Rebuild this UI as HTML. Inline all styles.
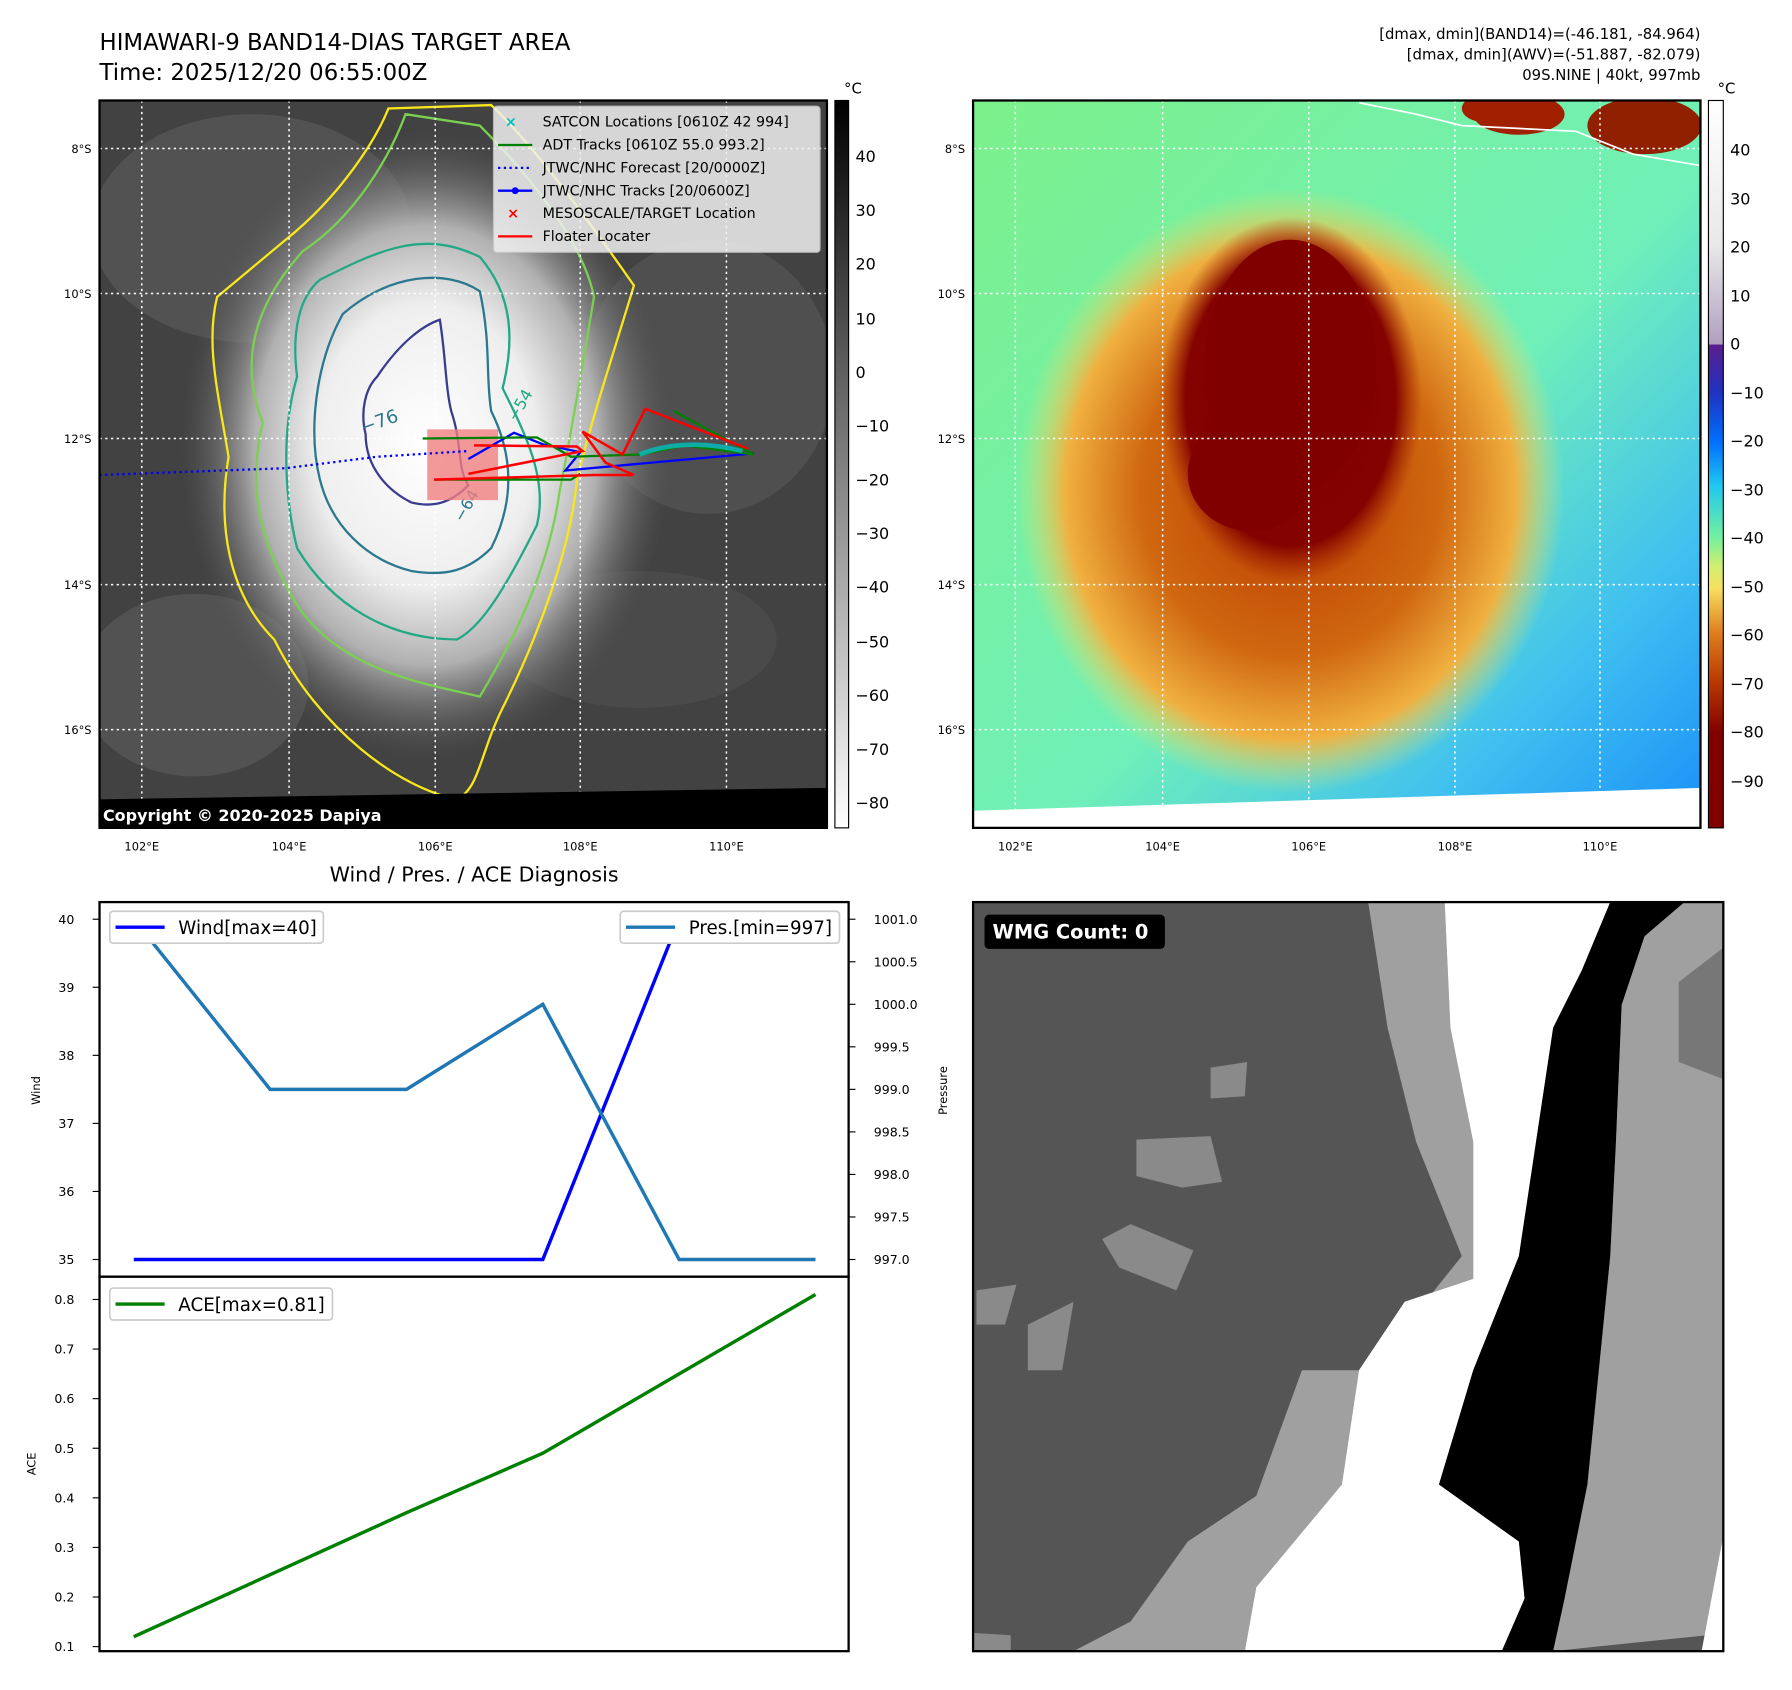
<!DOCTYPE html>
<html><head><meta charset="utf-8"><style>
html,body{margin:0;padding:0;background:#fff;}
svg{display:block;font-family:"DejaVu Sans","Liberation Sans",sans-serif;}
</style></head><body>
<svg id="fig" width="1792" height="1690" viewBox="0 0 1569 1480" xmlns="http://www.w3.org/2000/svg">
<defs>
<radialGradient id="cloudW" cx="0.5" cy="0.5" r="0.5">
<stop offset="0" stop-color="#ffffff"/><stop offset="0.45" stop-color="#eeeeee"/><stop offset="0.7" stop-color="#b0b0b0"/><stop offset="1" stop-color="#5a5a5a" stop-opacity="0"/>
</radialGradient>
<radialGradient id="warmO" cx="0.5" cy="0.5" r="0.5">
<stop offset="0" stop-color="#b83800"/><stop offset="0.55" stop-color="#d06810"/><stop offset="0.82" stop-color="#f0b040"/><stop offset="1" stop-color="#e8e870" stop-opacity="0"/>
</radialGradient>
<radialGradient id="coreR" cx="0.5" cy="0.5" r="0.5">
<stop offset="0" stop-color="#800000"/><stop offset="0.8" stop-color="#840200"/><stop offset="1" stop-color="#a02400" stop-opacity="0"/>
</radialGradient>
<linearGradient id="grayBar" x1="0" y1="0" x2="0" y2="1">
<stop offset="0" stop-color="#000"/><stop offset="1" stop-color="#fff"/>
</linearGradient>
<linearGradient id="colBar" x1="0" y1="0" x2="0" y2="1">
<stop offset="0" stop-color="#ffffff"/><stop offset="0.2" stop-color="#e8e8e8"/><stop offset="0.335" stop-color="#b0a0c0"/>
<stop offset="0.336" stop-color="#5a1e8c"/><stop offset="0.4" stop-color="#2030c0"/><stop offset="0.47" stop-color="#0070ff"/>
<stop offset="0.53" stop-color="#20c8f0"/><stop offset="0.6" stop-color="#70f0a0"/><stop offset="0.64" stop-color="#d0f070"/>
<stop offset="0.67" stop-color="#f8e060"/><stop offset="0.73" stop-color="#e08020"/><stop offset="0.8" stop-color="#b83800"/>
<stop offset="0.87" stop-color="#800000"/><stop offset="1" stop-color="#800000"/>
</linearGradient>
<linearGradient id="seaG" x1="0" y1="0" x2="1" y2="1">
<stop offset="0" stop-color="#7cf08a"/><stop offset="0.55" stop-color="#70f0b8"/><stop offset="0.8" stop-color="#40c0f0"/><stop offset="1" stop-color="#1890f8"/>
</linearGradient>
<clipPath id="clipL"><rect x="87" y="88" width="637" height="637"/></clipPath>
<clipPath id="clipR"><rect x="852" y="88" width="637" height="637"/></clipPath>
<clipPath id="clipB"><rect x="852" y="790" width="657" height="656"/></clipPath>
</defs>

<!-- Titles -->
<text x="87" y="44" font-size="20">HIMAWARI-9 BAND14-DIAS TARGET AREA</text>
<text x="87" y="70" font-size="20">Time: 2025/12/20 06:55:00Z</text>
<g font-size="13" text-anchor="end">
<text x="1489" y="34">[dmax, dmin](BAND14)=(-46.181, -84.964)</text>
<text x="1489" y="52">[dmax, dmin](AWV)=(-51.887, -82.079)</text>
<text x="1489" y="70">09S.NINE | 40kt, 997mb</text>
</g>

<!-- LEFT MAP -->
<g clip-path="url(#clipL)">
<rect x="87" y="88" width="637" height="637" fill="#424242"/>
<ellipse cx="220" cy="200" rx="140" ry="100" fill="#5e5e5e" opacity="0.6"/>
<ellipse cx="620" cy="330" rx="110" ry="120" fill="#555" opacity="0.7"/>
<ellipse cx="170" cy="600" rx="100" ry="80" fill="#5e5e5e" opacity="0.6"/>
<ellipse cx="560" cy="560" rx="120" ry="60" fill="#505050" opacity="0.6"/>
<ellipse cx="373" cy="390" rx="215" ry="275" fill="url(#cloudW)"/>
<!-- contours -->
<path d="M250,210 C300,170 330,120 340,95 L430,92 C470,130 520,200 555,250 C540,300 520,360 505,420 C500,480 470,560 440,620 C420,660 420,690 400,700 C350,690 280,640 240,560 C200,520 190,460 200,400 C190,340 180,300 190,260 Z" fill="none" stroke="#f8e81a" stroke-width="2"/>
<path d="M265,220 C310,190 340,140 355,100 L420,110 C460,150 510,210 520,260 C510,320 500,380 490,430 C480,500 450,560 420,610 C380,600 300,590 260,530 C230,480 215,430 230,370 C210,320 220,270 265,220 Z" fill="none" stroke="#7ad151" stroke-width="2"/>
<path d="M280,245 C330,220 370,200 420,225 C450,260 450,300 440,340 C460,380 480,420 470,460 C440,520 420,550 400,560 C340,560 290,530 260,480 C250,440 245,380 260,330 C255,290 262,260 280,245 Z" fill="none" stroke="#22a884" stroke-width="2"/>
<path d="M300,275 C340,240 390,235 420,255 C430,300 425,330 430,360 C450,400 450,440 430,480 C410,500 390,505 360,500 C320,490 290,460 280,420 C270,380 275,320 300,275 Z" fill="none" stroke="#2a788e" stroke-width="2"/>
<path d="M330,330 C350,300 370,285 385,280 C390,310 390,340 395,360 C405,390 400,410 410,425 C395,440 380,445 360,440 C340,430 320,410 320,380 C315,360 320,340 330,330 Z" fill="none" stroke="#3b3b8f" stroke-width="2"/>
<text x="318" y="380" font-size="16" fill="#2a788e" transform="rotate(-20 318 380)">−76</text>
<text x="452" y="370" font-size="14" fill="#22a884" transform="rotate(-60 452 370)">−54</text>
<text x="405" y="458" font-size="14" fill="#2a788e" transform="rotate(-60 405 458)">−64</text>
<!-- grid -->
<g stroke="#fff" stroke-width="1.3" stroke-dasharray="2,3">
<line x1="124" y1="88" x2="124" y2="725"/><line x1="253" y1="88" x2="253" y2="725"/><line x1="381" y1="88" x2="381" y2="725"/><line x1="508" y1="88" x2="508" y2="725"/><line x1="636" y1="88" x2="636" y2="725"/>
<line x1="87" y1="130" x2="724" y2="130"/><line x1="87" y1="257" x2="724" y2="257"/><line x1="87" y1="384" x2="724" y2="384"/><line x1="87" y1="512" x2="724" y2="512"/><line x1="87" y1="639" x2="724" y2="639"/>
</g>
<!-- tracks -->
<rect x="374" y="376" width="62" height="62" fill="#f08080" opacity="0.8"/>
<path d="M87,416 L250,410 L330,400 L410,395" fill="none" stroke="#0000ff" stroke-width="2" stroke-dasharray="2,3"/>
<path d="M410,402 L450,379 L475,389 L508,396 L495,412 L660,397" fill="none" stroke="#0000ff" stroke-width="2"/>
<path d="M370,384 L470,383 L500,400 L560,398 L600,390 L660,398 M380,420 L500,420 L508,415 M590,360 L660,398" fill="none" stroke="#008000" stroke-width="2"/>
<path d="M380,420 L520,416 L555,416 L530,405 L510,378 L545,398 L565,358 L655,393 M415,390 L505,391 L510,395 L410,415" fill="none" stroke="#ff0000" stroke-width="2.2"/>
<path d="M560,398 C580,390 610,385 650,395" fill="none" stroke="#00c0c0" stroke-width="4" opacity="0.8"/>
<polygon points="87,700 724,690 724,725 87,725" fill="#000"/>
<text x="90" y="719" font-size="14" font-weight="bold" fill="#fff">Copyright © 2020-2025 Dapiya</text>
<!-- legend -->
<g>
<rect x="432" y="93" width="286" height="128" rx="3" fill="#f0f0f0" opacity="0.85" stroke="#ccc"/>
<g font-size="12.5">
<text x="442" y="111" fill="#00bfbf" font-weight="bold">×</text><text x="475" y="111">SATCON Locations [0610Z 42 994]</text>
<line x1="436" y1="127" x2="466" y2="127" stroke="#008000" stroke-width="2"/><text x="475" y="131">ADT Tracks [0610Z 55.0 993.2]</text>
<line x1="436" y1="147" x2="466" y2="147" stroke="#0000ff" stroke-width="2" stroke-dasharray="2,3"/><text x="475" y="151">JTWC/NHC Forecast [20/0000Z]</text>
<line x1="436" y1="167" x2="466" y2="167" stroke="#0000ff" stroke-width="2"/><circle cx="451" cy="167" r="3" fill="#0000ff"/><text x="475" y="171">JTWC/NHC Tracks [20/0600Z]</text>
<text x="444" y="191" fill="#ff0000" font-weight="bold">×</text><text x="475" y="191">MESOSCALE/TARGET Location</text>
<line x1="436" y1="207" x2="466" y2="207" stroke="#ff0000" stroke-width="2"/><text x="475" y="211">Floater Locater</text>
</g></g>
</g>
<rect x="87" y="88" width="637" height="637" fill="none" stroke="#000" stroke-width="2"/>
<!-- left map ticks -->
<g font-size="10" fill="#000">
<text x="124" y="745" text-anchor="middle">102°E</text><text x="253" y="745" text-anchor="middle">104°E</text><text x="381" y="745" text-anchor="middle">106°E</text><text x="508" y="745" text-anchor="middle">108°E</text><text x="636" y="745" text-anchor="middle">110°E</text>
<text x="80" y="134" text-anchor="end">8°S</text><text x="80" y="261" text-anchor="end">10°S</text><text x="80" y="388" text-anchor="end">12°S</text><text x="80" y="516" text-anchor="end">14°S</text><text x="80" y="643" text-anchor="end">16°S</text>
</g>
<!-- colorbar 1 -->
<g>
<rect x="731" y="88" width="12" height="637" fill="url(#grayBar)" stroke="#000" stroke-width="1"/>
<text x="739" y="82" font-size="13">°C</text>
<g font-size="14">
<text x="749" y="142">40</text><text x="749" y="189">30</text><text x="749" y="236">20</text><text x="749" y="284">10</text><text x="749" y="331">0</text>
<text x="749" y="378">−10</text><text x="749" y="425">−20</text><text x="749" y="472">−30</text><text x="749" y="519">−40</text><text x="749" y="567">−50</text><text x="749" y="614">−60</text><text x="749" y="661">−70</text><text x="749" y="708">−80</text>
</g></g>

<!-- RIGHT MAP -->
<g clip-path="url(#clipR)">
<rect x="852" y="88" width="637" height="637" fill="url(#seaG)"/>
<ellipse cx="1130" cy="430" rx="240" ry="265" fill="url(#warmO)"/>
<ellipse cx="1130" cy="350" rx="115" ry="160" fill="url(#coreR)"/>
<ellipse cx="1130" cy="320" rx="75" ry="110" fill="#800000"/>
<ellipse cx="1095" cy="415" rx="55" ry="50" fill="#800000"/>
<ellipse cx="1330" cy="100" rx="40" ry="18" fill="#a02000"/>
<ellipse cx="1440" cy="110" rx="50" ry="25" fill="#902000"/>
<ellipse cx="1300" cy="95" rx="20" ry="12" fill="#a02000"/>
<polygon points="852,710 1489,690 1489,725 852,725" fill="#fff"/>
<path d="M1190,90 L1240,100 L1280,110 L1320,112 L1380,115 L1430,135 L1489,145" fill="none" stroke="#fff" stroke-width="1.5"/>
<g stroke="#fff" stroke-width="1.3" stroke-dasharray="2,3">
<line x1="889" y1="88" x2="889" y2="725"/><line x1="1018" y1="88" x2="1018" y2="725"/><line x1="1146" y1="88" x2="1146" y2="725"/><line x1="1274" y1="88" x2="1274" y2="725"/><line x1="1401" y1="88" x2="1401" y2="725"/>
<line x1="852" y1="130" x2="1489" y2="130"/><line x1="852" y1="257" x2="1489" y2="257"/><line x1="852" y1="384" x2="1489" y2="384"/><line x1="852" y1="512" x2="1489" y2="512"/><line x1="852" y1="639" x2="1489" y2="639"/>
</g>
</g>
<rect x="852" y="88" width="637" height="637" fill="none" stroke="#000" stroke-width="2"/>
<g font-size="10" fill="#000">
<text x="889" y="745" text-anchor="middle">102°E</text><text x="1018" y="745" text-anchor="middle">104°E</text><text x="1146" y="745" text-anchor="middle">106°E</text><text x="1274" y="745" text-anchor="middle">108°E</text><text x="1401" y="745" text-anchor="middle">110°E</text>
<text x="845" y="134" text-anchor="end">8°S</text><text x="845" y="261" text-anchor="end">10°S</text><text x="845" y="388" text-anchor="end">12°S</text><text x="845" y="516" text-anchor="end">14°S</text><text x="845" y="643" text-anchor="end">16°S</text>
</g>
<g>
<rect x="1496" y="88" width="13" height="637" fill="url(#colBar)" stroke="#000" stroke-width="1"/>
<text x="1504" y="82" font-size="13">°C</text>
<g font-size="14">
<text x="1515" y="136">40</text><text x="1515" y="179">30</text><text x="1515" y="221">20</text><text x="1515" y="264">10</text><text x="1515" y="306">0</text>
<text x="1515" y="349">−10</text><text x="1515" y="391">−20</text><text x="1515" y="434">−30</text><text x="1515" y="476">−40</text><text x="1515" y="519">−50</text><text x="1515" y="561">−60</text><text x="1515" y="604">−70</text><text x="1515" y="646">−80</text><text x="1515" y="689">−90</text>
</g></g>

<!-- BOTTOM RIGHT WMG -->
<g clip-path="url(#clipB)">
<rect x="852" y="790" width="657" height="656" fill="#555555"/>
<polygon points="1198,790 1265,790 1270,900 1290,1000 1290,1120 1230,1140 1190,1200 1175,1300 1100,1390 1090,1446 940,1446 990,1420 1040,1350 1100,1310 1140,1200 1200,1200 1280,1100 1240,1000 1215,900" fill="#a0a0a0"/>
<polygon points="1265,790 1410,790 1385,850 1360,900 1345,1000 1330,1100 1290,1200 1260,1300 1330,1350 1335,1400 1315,1446 1090,1446 1100,1390 1175,1300 1190,1200 1230,1140 1290,1120 1290,1000 1270,900" fill="#ffffff"/>
<polygon points="1410,790 1475,790 1440,820 1420,880 1415,1000 1410,1100 1400,1200 1390,1300 1370,1400 1360,1446 1315,1446 1335,1400 1330,1350 1260,1300 1290,1200 1330,1100 1345,1000 1360,900 1385,850" fill="#000"/>
<polygon points="1475,790 1509,790 1509,1345 1495,1432 1360,1446 1370,1400 1390,1300 1400,1200 1410,1100 1415,1000 1420,880 1440,820" fill="#a0a0a0"/>
<polygon points="1470,860 1509,830 1509,945 1470,930" fill="#777"/>
<polygon points="1509,1345 1509,1446 1490,1446" fill="#fff"/>
<polygon points="995,998 1060,995 1070,1035 1035,1040 995,1030" fill="#8a8a8a"/>
<polygon points="965,1085 990,1072 1045,1095 1030,1130 980,1110" fill="#8a8a8a"/>
<polygon points="855,1130 890,1125 880,1160 855,1160" fill="#8a8a8a"/>
<polygon points="1060,935 1092,930 1090,960 1060,962" fill="#8a8a8a"/>
<polygon points="900,1160 940,1140 930,1200 900,1200" fill="#8a8a8a"/>
<polygon points="852,1430 885,1432 885,1446 852,1446" fill="#8a8a8a"/>
</g>
<rect x="852" y="790" width="657" height="656" fill="none" stroke="#000" stroke-width="2"/>
<rect x="862" y="801" width="158" height="30" rx="4" fill="#000"/>
<text x="869" y="822" font-size="17" font-weight="bold" fill="#fff">WMG Count: 0</text>

<!-- BOTTOM LEFT CHART (drawn by script) -->
<text x="415" y="772" font-size="18" text-anchor="middle">Wind / Pres. / ACE Diagnosis</text>
<g id="chart"></g>
</svg>
<script>
const windVals = [35, 35, 35, 35, 40, 40];
const presVals = [1001, 999, 999, 1000, 997, 997];
const aceVals = [0.12, 0.245, 0.37, 0.49, 0.65, 0.81];
const windTicks = [35, 36, 37, 38, 39, 40];
const presTicks = [997.0, 997.5, 998.0, 998.5, 999.0, 999.5, 1000.0, 1000.5, 1001.0];
const aceTicks = [0.1, 0.2, 0.3, 0.4, 0.5, 0.6, 0.7, 0.8];

const NS = 'http://www.w3.org/2000/svg';
const g = document.getElementById('chart');
function mk(tag, attrs, parent) {
  const e = document.createElementNS(NS, tag);
  for (const k in attrs) e.setAttribute(k, attrs[k]);
  (parent || g).appendChild(e);
  return e;
}
const L = 87, R = 743, T1 = 790, B1 = 1118, T2 = 1118, B2 = 1446;
const xS = i => 117 + i * (714 - 117) / (windVals.length - 1);
const yW = v => 1103 + (v - 35) * (805 - 1103) / 5;
const yP = v => 1103 + (v - 997) * (805 - 1103) / 4;
const yA = v => 1442 + (v - 0.1) * (1138 - 1442) / 0.7;

function line(vals, sx, sy, color, w, name) {
  const p = mk('polyline', {points: vals.map((v, i) => sx(i) + ',' + sy(v)).join(' '), fill: 'none', stroke: color, 'stroke-width': w});
  
  
}
line(windVals, xS, yW, '#0000ff', 3, 'wind-line');
line(presVals, xS, yP, '#1f77b4', 3, 'pressure-line');
line(aceVals, xS, yA, '#008000', 3, 'ace-line');

let fr = mk('rect', {x: L, y: T1, width: R - L, height: B1 - T1, fill: 'none', stroke: '#000', 'stroke-width': 2});


fr = mk('rect', {x: L, y: T2, width: R - L, height: B2 - T2, fill: 'none', stroke: '#000', 'stroke-width': 2});



windTicks.forEach(v => {
  mk('line', {x1: L - 6, x2: L, y1: yW(v), y2: yW(v), stroke: '#000'});
  const t = mk('text', {x: L - 22, y: yW(v) + 4, 'font-size': 11, 'text-anchor': 'end'});
  t.textContent = v;
  
  
});
presTicks.forEach(v => {
  mk('line', {x1: R, x2: R + 6, y1: yP(v), y2: yP(v), stroke: '#000'});
  const t = mk('text', {x: R + 22, y: yP(v) + 4, 'font-size': 11});
  t.textContent = v.toFixed(1);
  
  
});
aceTicks.forEach(v => {
  mk('line', {x1: L - 6, x2: L, y1: yA(v), y2: yA(v), stroke: '#000'});
  const t = mk('text', {x: L - 22, y: yA(v) + 4, 'font-size': 11, 'text-anchor': 'end'});
  t.textContent = v.toFixed(1);
  
  
});
let yt = mk('text', {x: 35, y: 955, 'font-size': 10, 'text-anchor': 'middle', transform: 'rotate(-90 35 955)'});
yt.textContent = 'Wind';


yt = mk('text', {x: 829, y: 955, 'font-size': 10, 'text-anchor': 'middle', transform: 'rotate(-90 829 955)'});
yt.textContent = 'Pressure';


yt = mk('text', {x: 31, y: 1282, 'font-size': 10, 'text-anchor': 'middle', transform: 'rotate(-90 31 1282)'});
yt.textContent = 'ACE';



function legend(x, y, w, color, label, name) {
  const lg = mk('g', {});
  
  
  mk('rect', {x: x, y: y, width: w, height: 28, rx: 3, fill: '#fff', stroke: '#ccc', 'stroke-width': 1.5}, lg);
  mk('line', {x1: x + 5, x2: x + 48, y1: y + 14, y2: y + 14, stroke: color, 'stroke-width': 3}, lg);
  const t = mk('text', {x: x + 60, y: y + 20, 'font-size': 16}, lg);
  t.textContent = label;
}
legend(96, 798, 187, '#0000ff', 'Wind[max=40]', 'wind-legend');
legend(543, 798, 192, '#1f77b4', 'Pres.[min=997]', 'pressure-legend');
legend(96, 1128, 195, '#008000', 'ACE[max=0.81]', 'ace-legend');
</script>
</body></html>
